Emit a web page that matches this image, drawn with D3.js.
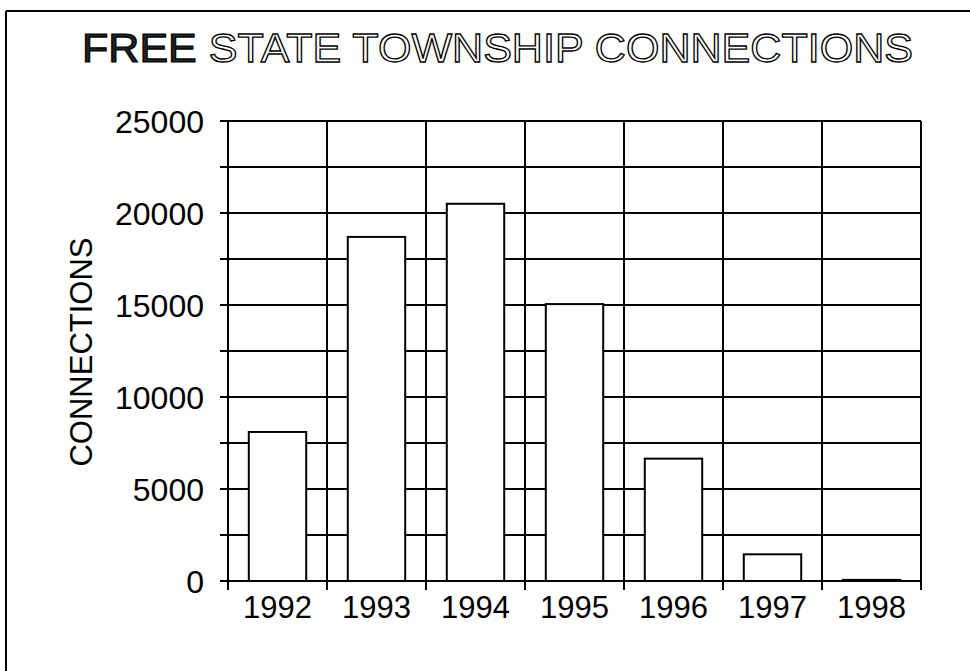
<!DOCTYPE html>
<html>
<head>
<meta charset="utf-8">
<script src="https://cdn.jsdelivr.net/npm/d3@7"></script>
<style>
  body { margin: 0; background: #fff; }
  svg { display: block; font-family: "Liberation Sans", Arial, sans-serif; }
</style>
</head>
<body>
<div id="chart"></div>
<script>
// values
let years = ["1992", "1993", "1994", "1995", "1996", "1997", "1998"];
let connections = [8100, 18700, 20500, 15050, 6650, 1450, 60];
let yTicks = [0, 5000, 10000, 15000, 20000, 25000];
let yGrid = [0, 2500, 5000, 7500, 10000, 12500, 15000, 17500, 20000, 22500, 25000];

let W = 970, H = 671;
let margin = { top: 121, right: 49, bottom: 90, left: 228 };
let width = W - margin.left - margin.right;
let height = H - margin.top - margin.bottom;

let svg = d3.select("#chart").append("svg")
    .attr("width", W)
    .attr("height", H);

// page frame (scan shows only left and top edges)
svg.append("line").attr("x1", 6).attr("y1", 11).attr("x2", W).attr("y2", 11)
    .attr("stroke", "#000").attr("stroke-width", 2);
svg.append("line").attr("x1", 6).attr("y1", 11).attr("x2", 6).attr("y2", H)
    .attr("stroke", "#000").attr("stroke-width", 2);

// title: first word solid, the rest outlined
let title = svg.append("text")
    .attr("x", 82).attr("y", 62)
    .attr("textLength", 831)
    .attr("lengthAdjust", "spacingAndGlyphs")
    .style("font-size", "41px");
title.append("tspan").text("FREE ")
    .attr("fill", "#222").attr("stroke", "#000").attr("stroke-width", 1.2);
title.append("tspan").text("STATE TOWNSHIP CONNECTIONS")
    .attr("fill", "#fff").attr("stroke", "#000").attr("stroke-width", 1.3);

let g = svg.append("g")
    .attr("transform", "translate(" + margin.left + "," + margin.top + ")");

let x = d3.scaleBand()
    .domain(years)
    .range([0, width])
    .paddingInner(0.42)
    .paddingOuter(0.21);

let y = d3.scaleLinear()
    .domain([0, 25000])
    .range([height, 0]);

// band edges for vertical grid lines
let step = width / years.length;
let edges = d3.range(years.length + 1).map(i => i * step);

// horizontal grid
g.selectAll(".hgrid")
    .data(yGrid)
    .enter()
    .append("line")
    .attr("x1", -8).attr("x2", width)
    .attr("y1", d => y(d)).attr("y2", d => y(d))
    .attr("stroke", "#000").attr("stroke-width", 2);

// vertical grid
g.selectAll(".vgrid")
    .data(edges)
    .enter()
    .append("line")
    .attr("x1", d => d).attr("x2", d => d)
    .attr("y1", 0).attr("y2", height + 9)
    .attr("stroke", "#000").attr("stroke-width", 2);

// bars
g.selectAll(".bar")
    .data(connections)
    .enter()
    .append("rect")
    .attr("x", (d, i) => x(years[i]))
    .attr("y", d => y(d))
    .attr("width", x.bandwidth())
    .attr("height", d => height - y(d))
    .attr("fill", "#fff")
    .attr("stroke", "#000")
    .attr("stroke-width", 2);

// y tick labels
g.selectAll(".ylab")
    .data(yTicks)
    .enter()
    .append("text")
    .attr("x", -24)
    .attr("y", d => y(d) + 11.5)
    .attr("text-anchor", "end")
    .style("font-size", "32px")
    .text(d => d);

// x tick labels
g.selectAll(".xlab")
    .data(years)
    .enter()
    .append("text")
    .attr("x", d => x(d) + x.bandwidth() / 2)
    .attr("y", height + 37)
    .attr("text-anchor", "middle")
    .style("font-size", "31px")
    .text(d => d);

// y axis title
svg.append("text")
    .attr("transform", "translate(92,352) rotate(-90)")
    .attr("text-anchor", "middle")
    .style("font-size", "31px")
    .text("CONNECTIONS");
</script>
</body>
</html>
